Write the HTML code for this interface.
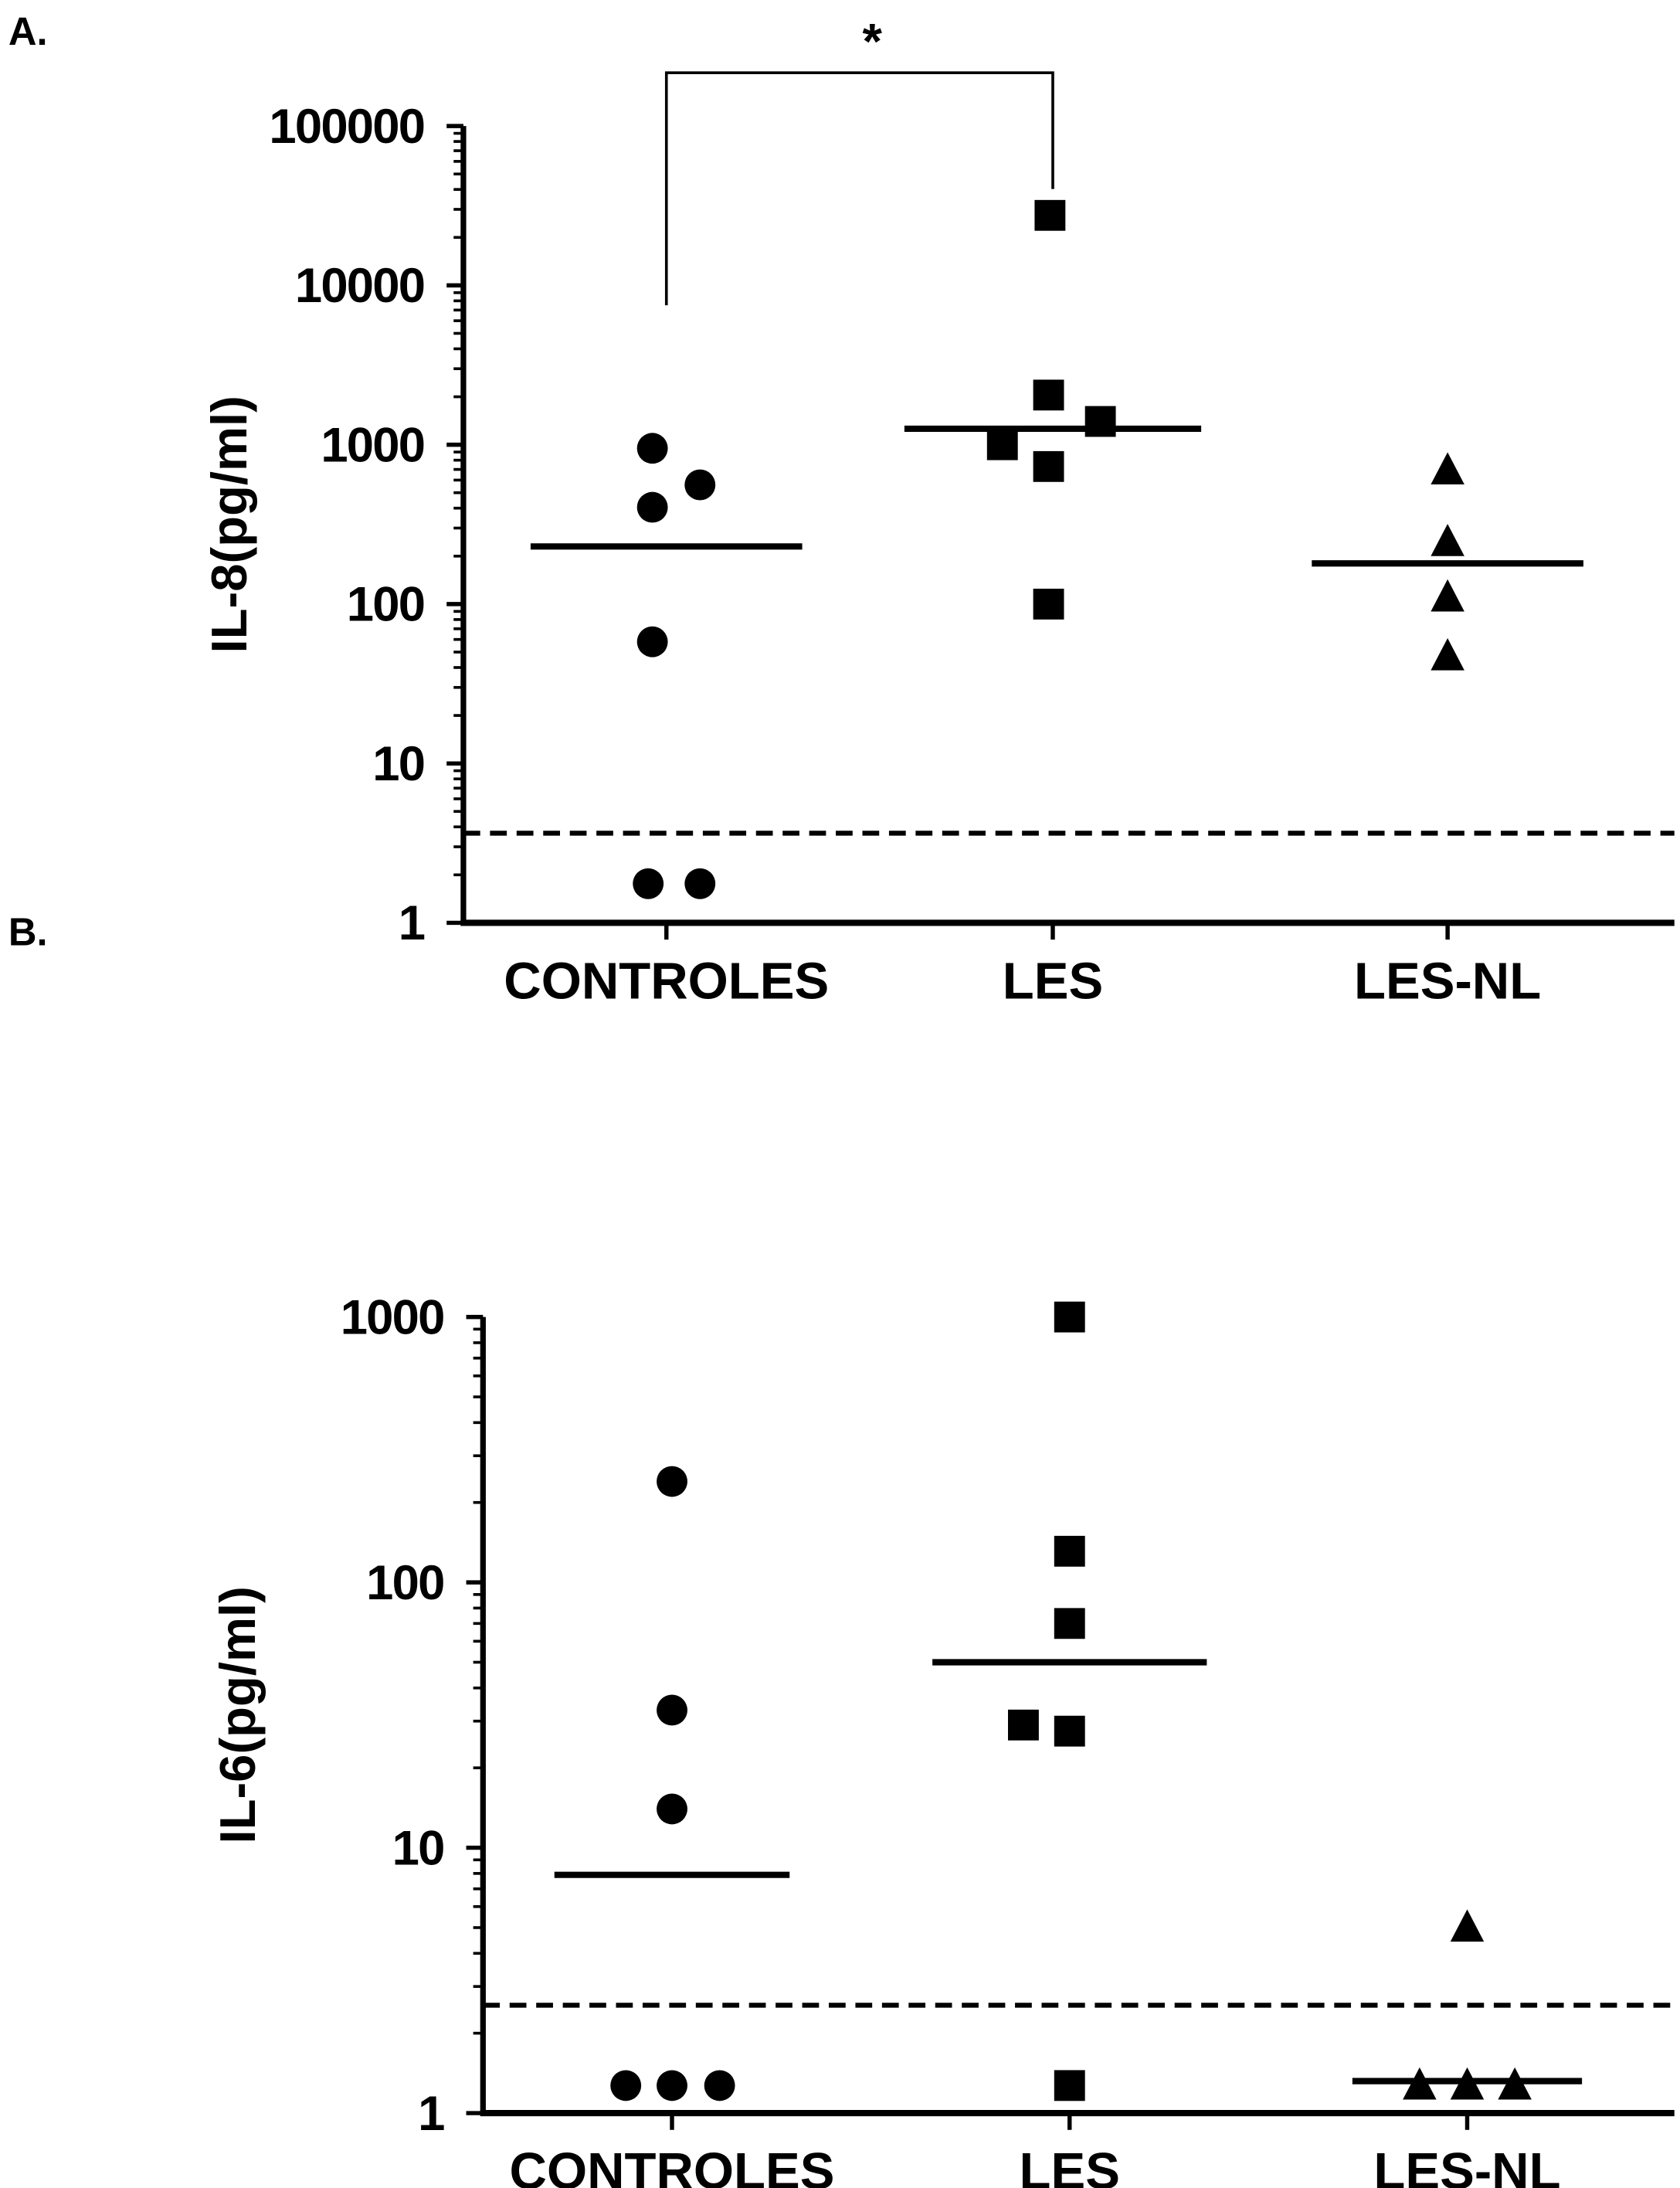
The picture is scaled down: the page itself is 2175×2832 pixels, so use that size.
<!DOCTYPE html>
<html><head><meta charset="utf-8"><style>
html,body{margin:0;padding:0;background:#fff}
svg{display:block}
text{font-family:"Liberation Sans",Arial,sans-serif;font-weight:bold;fill:#000}
</style></head><body>
<svg id="fig" width="2175" height="2832" viewBox="0 0 1200 1562.5" xmlns="http://www.w3.org/2000/svg">
<text x="6" y="32" font-size="28">A.</text>
<text x="6" y="675" font-size="28">B.</text>
<g id="chartA"></g>
<g id="chartB"></g>
</svg>
<script>
const categories = ["CONTROLES", "LES", "LES-NL"];
// Panel A: IL-8 (pg/ml)
const il8Controles = [950, 560, 405, 58, 1.76, 1.76];
const il8Les = [27500, 2050, 1400, 1000, 730, 100];
const il8LesNL = [690, 245, 110, 47];
const il8Means = [230, 1260, 180];
const il8Limit = 3.65;
const il8Ticks = ["1", "10", "100", "1000", "10000", "100000"];
// Panel B: IL-6 (pg/ml)
const il6Controles = [240, 33, 14, 1.27, 1.27, 1.27];
const il6Les = [1000, 131, 70, 29, 27.5, 1.27];
const il6LesNL = [5.0, 1.27, 1.27, 1.27];
const il6Means = [7.9, 50, 1.32];
const il6Limit = 2.55;
const il6Ticks = ["1", "10", "100", "1000"];
// horizontal jitter (display offsets, not data)
const jitA = [[-10,24,-10,-10,-13,24],[-2,-3,34,-36,-3,-3],[0,0,0,0]];
const jitB = [[0,0,0,-33,0,34],[0,0,0,-33,0,0],[0,-34,0,34]];

const NS = "http://www.w3.org/2000/svg";
function mk(parent, tag, attrs){ const e=document.createElementNS(NS,tag); for(const k in attrs) e.setAttribute(k,attrs[k]); parent.appendChild(e); return e; }

function drawChart(g, cfg){
  const {x0,x1,yBottom,decadePx,catX,series,means,limit,ticks,ylabel,ylabelX,meanHalf,prefix,jit} = cfg;
  const y = v => yBottom - Math.log10(v)*decadePx;
  const nDec = ticks.length-1;
  const yTop = y(Math.pow(10,nDec));
  const ya = mk(g,"line",{x1:x0,y1:yTop,x2:x0,y2:yBottom,stroke:"#000","stroke-width":4});
  
  
  const xa = mk(g,"line",{x1:x0-2,y1:yBottom,x2:x1,y2:yBottom,stroke:"#000","stroke-width":4.5});
  
  
  for(let d=0; d<=nDec; d++){
    const v=Math.pow(10,d), yy=y(v);
    mk(g,"line",{x1:x0-12,y1:yy,x2:x0,y2:yy,stroke:"#000","stroke-width":3});
    const t=mk(g,"text",{x:x0-28,y:yy+12,"font-size":35,"text-anchor":"end","letter-spacing":"-1"});
    t.textContent=ticks[d];
    
    
    if(d<nDec){ for(let m=2;m<=9;m++){ const ym=y(v*m); mk(g,"line",{x1:x0-7,y1:ym,x2:x0,y2:ym,stroke:"#000","stroke-width":2}); } }
  }
  const yl=mk(g,"text",{x:0,y:0,"font-size":36,"text-anchor":"middle",transform:`translate(${ylabelX},${(yTop+yBottom)/2}) rotate(-90)`});
  yl.textContent=ylabel;
  
  
  categories.forEach((c,i)=>{
    mk(g,"line",{x1:catX[i],y1:yBottom,x2:catX[i],y2:yBottom+12,stroke:"#000","stroke-width":3});
    const t=mk(g,"text",{x:catX[i],y:yBottom+54,"font-size":37,"text-anchor":"middle"});
    t.textContent=c;
    
    
  });
  const dl=mk(g,"line",{x1:x0,y1:y(limit),x2:x1,y2:y(limit),stroke:"#000","stroke-width":3.5,"stroke-dasharray":"12 7"});
  
  
  series.forEach((vals,i)=>{
    vals.forEach((v,j)=>{
      const cx=catX[i]+jit[i][j], cy=y(v); let p;
      if(i===0) p=mk(g,"circle",{cx:cx,cy:cy,r:11,fill:"#000"});
      else if(i===1) p=mk(g,"rect",{x:cx-11,y:cy-11,width:22,height:22,fill:"#000"});
      else p=mk(g,"polygon",{points:`${cx},${cy-13} ${cx-12},${cy+10} ${cx+12},${cy+10}`,fill:"#000"});
      
      
    });
  });
  means.forEach((m,i)=>{
    const l=mk(g,"line",{x1:catX[i]-meanHalf[i],y1:y(m),x2:catX[i]+meanHalf[i],y2:y(m),stroke:"#000","stroke-width":4.5});
    
    
  });
  return y;
}

const gA=document.getElementById("chartA");
drawChart(gA,{x0:331,x1:1196,yBottom:659,decadePx:113.8,catX:[476,752,1034],
  series:[il8Controles,il8Les,il8LesNL],means:il8Means,limit:il8Limit,ticks:il8Ticks,
  ylabel:"IL-8(pg/ml)",ylabelX:176,meanHalf:[97,106,97],prefix:"il8",jit:jitA});
const br=mk(gA,"polyline",{points:"476,218 476,52 752,52 752,135",fill:"none",stroke:"#000","stroke-width":2});


const st=mk(gA,"text",{x:623,y:42,"font-size":36,"text-anchor":"middle"});
st.textContent="*";



const gB=document.getElementById("chartB");
drawChart(gB,{x0:345,x1:1196,yBottom:1509,decadePx:189.5,catX:[480,764,1048],
  series:[il6Controles,il6Les,il6LesNL],means:il6Means,limit:il6Limit,ticks:il6Ticks,
  ylabel:"IL-6(pg/ml)",ylabelX:182,meanHalf:[84,98,82],prefix:"il6",jit:jitB});
</script>
</body></html>
